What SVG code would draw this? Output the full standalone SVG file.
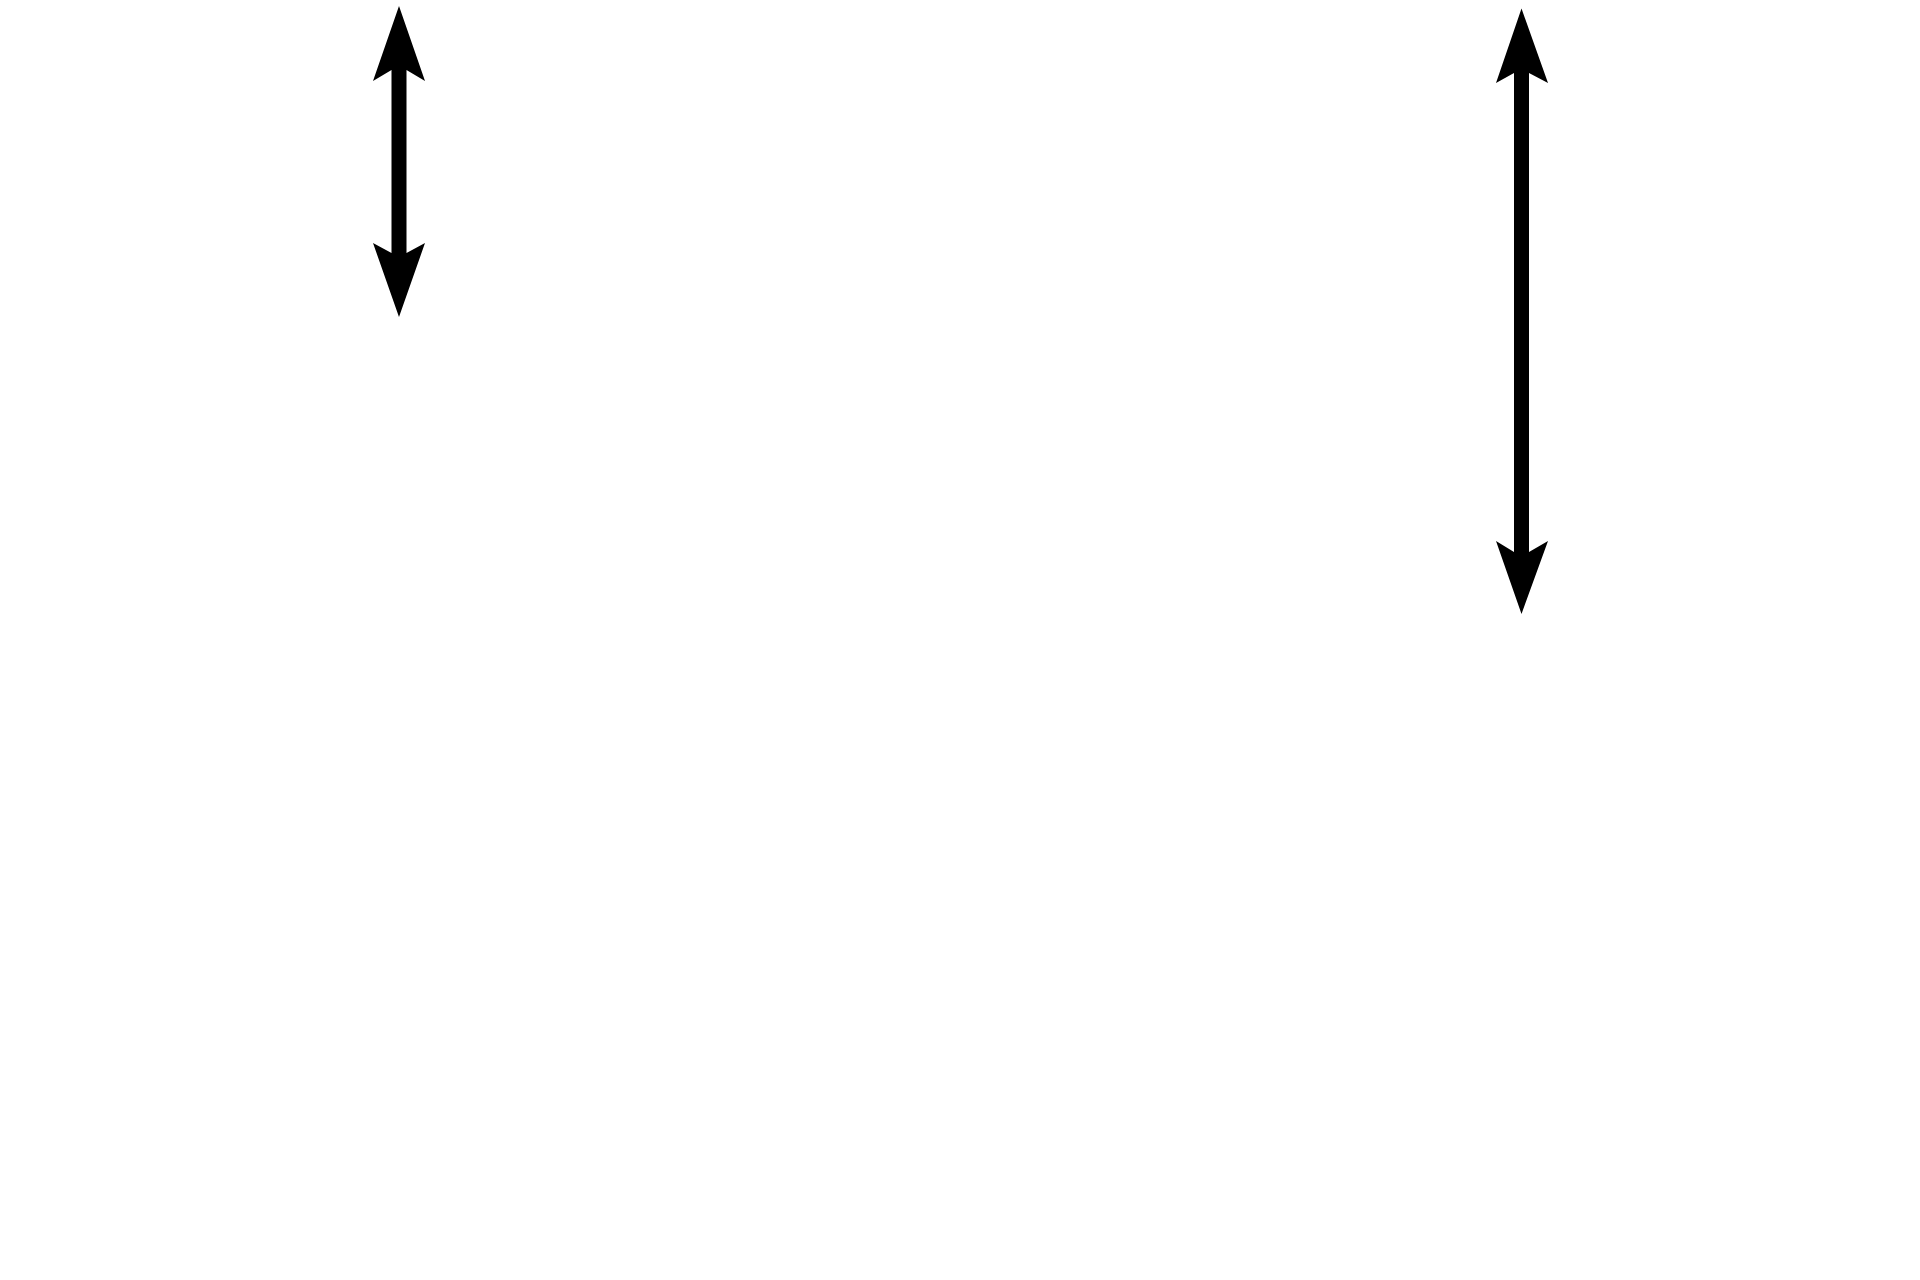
<svg xmlns="http://www.w3.org/2000/svg" width="1920" height="1280" viewBox="0 0 1920 1280">
<style>.arrow{fill:#000;stroke:none}</style>
<rect width="1920" height="1280" fill="#fff"/>
<g id="connectors">
<polygon id="arrow-left" class="arrow" points="399,6 425,81 406.5,70 406.5,253 425,243 399,317 373,243 391.5,253 391.5,70 373,81"/>
<polygon id="arrow-right" class="arrow" points="1521.5,8.5 1548,83 1529,73 1529,552 1548,541 1521.5,614 1496,541 1514,552 1514,73 1496,83"/>
</g>
</svg>
